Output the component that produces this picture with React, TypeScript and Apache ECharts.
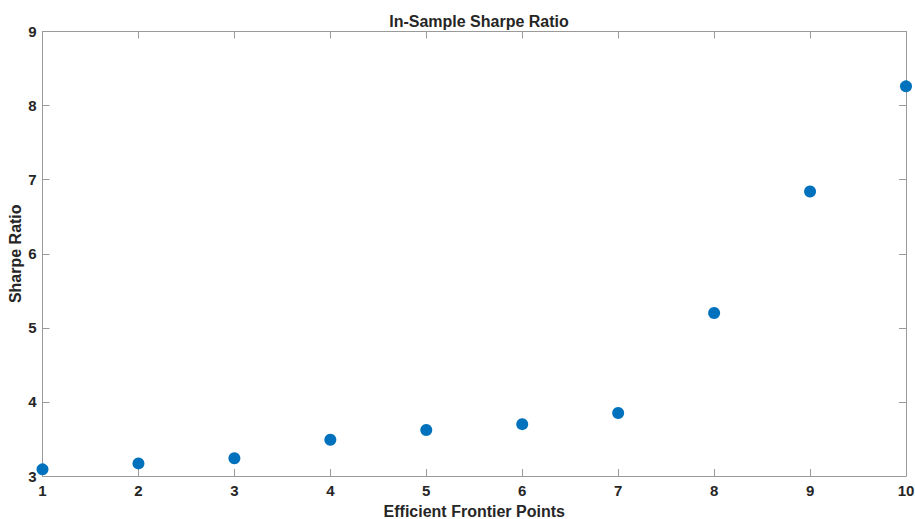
import React, { useEffect, useRef } from "react";
import * as echarts from "echarts";

const points = [1, 2, 3, 4, 5, 6, 7, 8, 9, 10];
const sharpe = [3.09, 3.17, 3.24, 3.49, 3.62, 3.7, 3.85, 5.2, 6.84, 8.26];
const xTicks = [1, 2, 3, 4, 5, 6, 7, 8, 9, 10];
const yTicks = [3, 4, 5, 6, 7, 8, 9];

export default function App() {
  const ref = useRef<HTMLDivElement>(null);
  useEffect(() => {
    if (!ref.current) return;
    const chart = echarts.init(ref.current, null, { renderer: "svg" });
    const axisColor = "#9a9a9a";
    const labelColor = "#262626";
    const font = "Liberation Sans, Arial, sans-serif";
    const common = {
      axisLine: { show: true, lineStyle: { color: axisColor, width: 1 } },
      axisTick: { show: true, inside: true, length: 7, lineStyle: { color: axisColor } },
      splitLine: { show: false },
    };
    chart.setOption({
      animation: false,
      backgroundColor: "#ffffff",
      title: {
        text: "In-Sample Sharpe Ratio",
        left: 474,
        textAlign: "center",
        top: 8,
        textStyle: { fontFamily: font, fontSize: 16, fontWeight: "bold", color: labelColor },
      },
      grid: {
        left: 42.5,
        right: 9,
        top: 31.5,
        bottom: 43,
        containLabel: false,
        outerBoundsMode: "none",
      },
      xAxis: [
        {
          type: "value",
          min: xTicks[0],
          max: xTicks[xTicks.length - 1],
          interval: 1,
          position: "bottom",
          name: "Efficient Frontier Points",
          nameLocation: "middle",
          nameGap: 27,
          nameMoveOverlap: false,
          nameTextStyle: { fontFamily: font, fontSize: 16, fontWeight: "bold", color: labelColor },
          axisLabel: { fontFamily: font, fontSize: 15, fontWeight: "bold", color: labelColor, margin: 7 },
          ...common,
        },
        {
          type: "value",
          min: xTicks[0],
          max: xTicks[xTicks.length - 1],
          interval: 1,
          position: "top",
          axisLabel: { show: false },
          ...common,
        },
      ],
      yAxis: [
        {
          type: "value",
          min: yTicks[0],
          max: yTicks[yTicks.length - 1],
          interval: 1,
          position: "left",
          name: "Sharpe Ratio",
          nameLocation: "middle",
          nameGap: 19,
          nameMoveOverlap: false,
          nameTextStyle: { fontFamily: font, fontSize: 16, fontWeight: "bold", color: labelColor },
          axisLabel: { fontFamily: font, fontSize: 15, fontWeight: "bold", color: labelColor, margin: 6 },
          ...common,
        },
        {
          type: "value",
          min: yTicks[0],
          max: yTicks[yTicks.length - 1],
          interval: 1,
          position: "right",
          axisLabel: { show: false },
          ...common,
        },
      ],
      series: [
        {
          type: "scatter",
          data: points.map((p, i) => [p, sharpe[i]]),
          symbol: "circle",
          symbolSize: 12,
          itemStyle: { color: "#0072BD", opacity: 1 },
          clip: false,
        },
      ],
    });
    return () => chart.dispose();
  }, []);
  return (
    <div
      ref={ref}
      style={{ position: "absolute", left: 0, top: 0, width: 915, height: 519, background: "#fff" }}
    />
  );
}
